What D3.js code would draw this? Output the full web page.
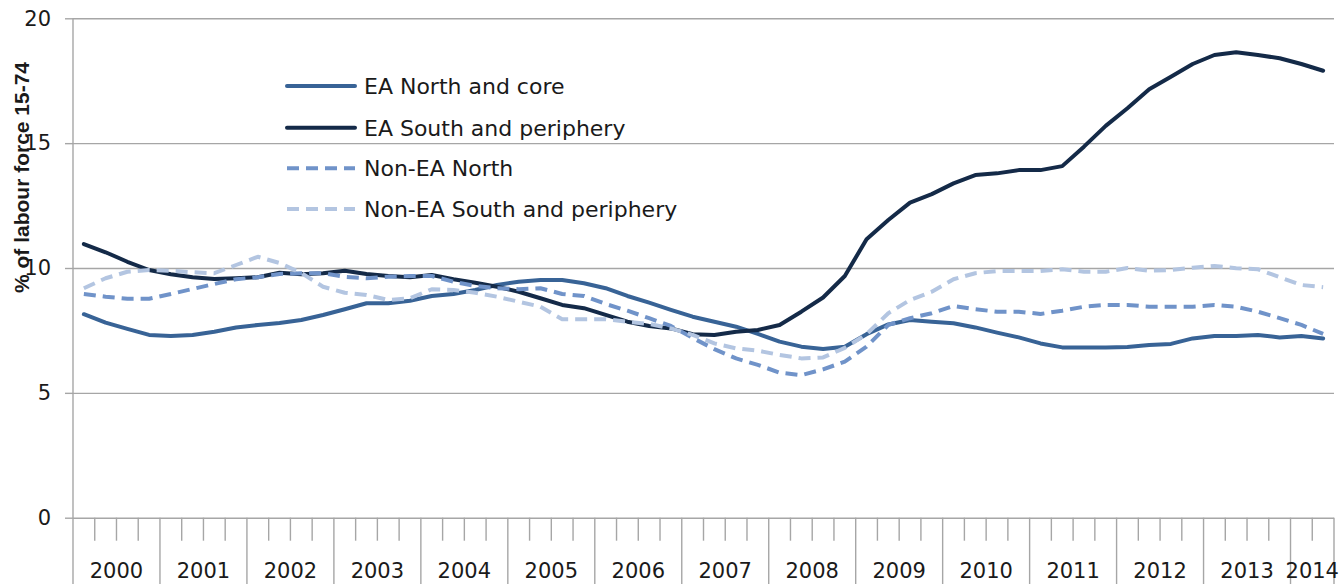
<!DOCTYPE html>
<html>
<head>
<meta charset="utf-8">
<script src="https://d3js.org/d3.v7.min.js"></script>
<style>
  body { margin: 0; background: #fff; }
  text { fill: #1a1a1a; }
</style>
</head>
<body>
<div id="chart"></div>
<script>
// quarterly unemployment, % of labour force 15-74, 2000Q1 - 2014Q2
var years = [2000, 2001, 2002, 2003, 2004, 2005, 2006, 2007, 2008, 2009, 2010, 2011, 2012, 2013, 2014];
var quarters = [];
years.forEach(function(yr) {
  for (var q = 1; q <= 4; q++) quarters.push(yr + "Q" + q);
});
quarters = quarters.slice(0, 58);

var eaNorth = [8.15, 7.81, 7.56, 7.32, 7.28, 7.32, 7.45, 7.62, 7.72, 7.80,
  7.92, 8.12, 8.35, 8.59, 8.59, 8.69, 8.88, 8.96, 9.12, 9.32,
  9.45, 9.52, 9.52, 9.39, 9.19, 8.88, 8.61, 8.32, 8.05, 7.85,
  7.65, 7.36, 7.05, 6.85, 6.76, 6.85, 7.35, 7.74, 7.92, 7.85,
  7.79, 7.62, 7.41, 7.22, 6.98, 6.82, 6.82, 6.82, 6.84, 6.92,
  6.96, 7.18, 7.28, 7.28, 7.32, 7.22, 7.28, 7.18];

var eaSouth = [10.96, 10.63, 10.25, 9.92, 9.75, 9.63, 9.56, 9.59, 9.63, 9.81,
  9.75, 9.79, 9.89, 9.76, 9.68, 9.63, 9.72, 9.55, 9.41, 9.25,
  9.05, 8.79, 8.52, 8.39, 8.12, 7.85, 7.68, 7.58, 7.35, 7.32,
  7.45, 7.52, 7.72, 8.25, 8.82, 9.68, 11.15, 11.92, 12.62, 12.96,
  13.39, 13.72, 13.79, 13.92, 13.92, 14.08, 14.86, 15.69, 16.40, 17.16,
  17.66, 18.17, 18.53, 18.64, 18.53, 18.40, 18.17, 17.90];

var nonEaNorth = [8.96, 8.85, 8.77, 8.77, 8.96, 9.16, 9.36, 9.55, 9.63, 9.76,
  9.79, 9.79, 9.65, 9.59, 9.65, 9.68, 9.68, 9.45, 9.28, 9.19,
  9.15, 9.19, 8.96, 8.88, 8.56, 8.29, 7.99, 7.68, 7.20, 6.75,
  6.38, 6.12, 5.81, 5.71, 5.94, 6.25, 6.85, 7.72, 7.99, 8.19,
  8.48, 8.35, 8.25, 8.25, 8.16, 8.29, 8.45, 8.52, 8.52, 8.45,
  8.45, 8.45, 8.52, 8.45, 8.25, 7.99, 7.72, 7.36];

var nonEaSouth = [9.19, 9.59, 9.85, 9.92, 9.89, 9.83, 9.79, 10.12, 10.45, 10.20,
  9.80, 9.25, 9.01, 8.92, 8.72, 8.79, 9.15, 9.12, 9.01, 8.85,
  8.65, 8.45, 7.95, 7.95, 7.95, 7.85, 7.76, 7.58, 7.32, 6.98,
  6.78, 6.69, 6.52, 6.38, 6.42, 6.80, 7.35, 8.19, 8.72, 9.05,
  9.55, 9.79, 9.88, 9.88, 9.88, 9.95, 9.85, 9.85, 10.00, 9.89,
  9.92, 10.01, 10.08, 9.99, 9.95, 9.63, 9.32, 9.23];

var seriesNames = ["EA North and core", "EA South and periphery", "Non-EA North", "Non-EA South and periphery"];
var seriesValues = [eaNorth, eaSouth, nonEaNorth, nonEaSouth];
var seriesColors = ["#386396", "#142a48", "#7093c9", "#b3c5e1"];
var seriesDash = [null, null, "12,7", "12,7"];

var yTicks = [0, 5, 10, 15, 20];

var W = 1341, H = 584;
var plotLeft = 73, plotRight = 1334, plotTop = 18.3, plotBottom = 517.7;

var svg = d3.select("#chart").append("svg")
  .attr("width", W)
  .attr("height", H);

var x = d3.scaleBand()
  .domain(quarters)
  .range([plotLeft, plotRight])
  .padding(0);

var y = d3.scaleLinear()
  .domain([0, 20])
  .range([plotBottom, plotTop]);

// horizontal gridlines
svg.append("g")
  .attr("transform", "translate(" + plotLeft + ",0)")
  .call(d3.axisLeft(y).tickValues(yTicks).tickSize(-(plotRight - plotLeft)).tickFormat(""))
  .call(function(g) { g.select(".domain").remove(); })
  .selectAll("line")
    .attr("stroke", "#a6a6a6")
    .attr("stroke-width", 1.4);

// y axis with outward ticks
svg.append("g")
  .attr("transform", "translate(" + plotLeft + ",0)")
  .call(d3.axisLeft(y).tickValues(yTicks).tickSize(8).tickSizeOuter(0).tickPadding(14))
  .call(function(g) {
    g.select(".domain").remove();
    g.selectAll("line").attr("stroke", "#a6a6a6").attr("stroke-width", 1.4);
    g.selectAll("text")
      .attr("font-family", "DejaVu Sans")
      .attr("font-size", "21px")
      .attr("fill", "#222");
  });

// vertical axis line, runs down through the category area
svg.append("line")
  .attr("x1", plotLeft).attr("x2", plotLeft)
  .attr("y1", plotTop).attr("y2", H)
  .attr("stroke", "#a6a6a6")
  .attr("stroke-width", 1.4);

// category ticks: short at quarters, long at year boundaries
var bounds = d3.range(1, quarters.length + 1);
svg.append("g").selectAll("line")
  .data(bounds)
  .join("line")
    .attr("x1", function(i) { return i < quarters.length ? x(quarters[i]) : plotRight; })
    .attr("x2", function(i) { return i < quarters.length ? x(quarters[i]) : plotRight; })
    .attr("y1", plotBottom)
    .attr("y2", function(i) { return (i % 4 === 0 || i === quarters.length) ? H : plotBottom + 23; })
    .attr("stroke", "#a6a6a6")
    .attr("stroke-width", 1.4);

// year labels
svg.append("g").selectAll("text")
  .data(years)
  .join("text")
    .attr("x", function(yr) {
      var qs = quarters.filter(function(q) { return q.indexOf(yr + "Q") === 0; });
      return (x(qs[0]) + x(qs[qs.length - 1]) + x.bandwidth()) / 2;
    })
    .attr("y", 577.5)
    .attr("text-anchor", "middle")
    .attr("font-family", "DejaVu Sans")
    .attr("font-size", "21px")
    .attr("fill", "#222")
    .text(function(yr) { return yr; });

// lines
var line = d3.line()
  .x(function(d, i) { return x(quarters[i]) + x.bandwidth() / 2; })
  .y(function(d) { return y(d); });

seriesValues.forEach(function(vals, k) {
  svg.append("path")
    .datum(vals)
    .attr("fill", "none")
    .attr("stroke", seriesColors[k])
    .attr("stroke-width", 4)
    .attr("stroke-linejoin", "round")
    .attr("stroke-linecap", seriesDash[k] ? "butt" : "round")
    .attr("stroke-dasharray", seriesDash[k])
    .attr("d", line);
});

// legend
var legendY = [86, 127.7, 168.3, 209];
var legend = svg.append("g");
seriesNames.forEach(function(name, k) {
  legend.append("line")
    .attr("x1", 287).attr("x2", 355)
    .attr("y1", legendY[k]).attr("y2", legendY[k])
    .attr("stroke", seriesColors[k])
    .attr("stroke-width", 4)
    .attr("stroke-linecap", seriesDash[k] ? "butt" : "round")
    .attr("stroke-dasharray", seriesDash[k]);
  legend.append("text")
    .attr("x", 364)
    .attr("y", legendY[k] + 8)
    .attr("font-family", "DejaVu Sans")
    .attr("font-size", "22px")
    .attr("fill", "#1a1a1a")
    .text(name);
});

// y axis title
svg.append("text")
  .attr("transform", "translate(29,177.5) rotate(-90)")
  .attr("text-anchor", "middle")
  .attr("font-family", "Liberation Sans")
  .attr("font-weight", "bold")
  .attr("font-size", "21px")
  .attr("fill", "#111")
  .text("% of labour force 15-74");
</script>
</body>
</html>
